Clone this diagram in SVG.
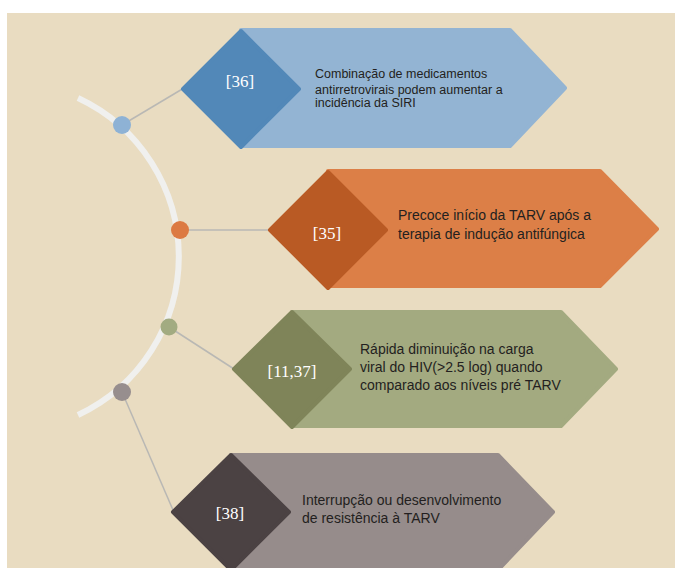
<svg xmlns="http://www.w3.org/2000/svg" width="675" height="568" viewBox="0 0 675 568">
<style>
.txt{font-family:"Liberation Sans","Noto Sans",Arial,sans-serif;fill:#231f20}
.lbl{font-family:"Liberation Serif","Times New Roman",serif;font-size:17px;fill:#ffffff;text-anchor:middle}
.conn{stroke:#b9b8b4;stroke-width:1.5;fill:none}
.shape{stroke-linejoin:round;stroke-width:4}
</style>
<rect x="0" y="0" width="675" height="568" fill="#ffffff"/>
<rect x="7" y="13" width="668" height="555" fill="#e9dcc1"/>
<path d="M78 98 A175 175 0 0 1 78 415" fill="none" stroke="#f0f0ee" stroke-width="6"/>
<g id="connectors">
<line class="conn" x1="122" y1="125" x2="184" y2="88"/>
<line class="conn" x1="180" y1="230" x2="270" y2="230"/>
<line class="conn" x1="169" y1="327" x2="234" y2="369"/>
<line class="conn" x1="122" y1="392" x2="173" y2="510"/>
</g>
<g id="dots">
<circle cx="122" cy="125" r="9" fill="#8eb2d5"/>
<circle cx="180" cy="230" r="9" fill="#dc7a42"/>
<circle cx="169" cy="327" r="8.5" fill="#a2ab81"/>
<circle cx="122" cy="392" r="9" fill="#978e8e"/>
</g>
<g id="node36">
<polygon class="shape" points="241,30 510,30 565,88 510,146 241,146" fill="#93b4d3" stroke="#93b4d3"/>
<polygon class="shape" points="241,31 299,89 241,147 183,89" fill="#5288b8" stroke="#5288b8"/>
<text class="lbl" x="240" y="87">[36]</text>
<text class="txt" font-size="12.5"><tspan x="315" y="78">Combinação de medicamentos</tspan><tspan x="315" y="94">antirretrovirais podem aumentar a</tspan><tspan x="315" y="107">incidência da SIRI</tspan></text>
</g>
<g id="node35">
<polygon class="shape" points="328,171 600,171 657,229 600,286 328,286" fill="#dc7f47" stroke="#dc7f47"/>
<polygon class="shape" points="328,172 386,230 328,288 270,230" fill="#b95a24" stroke="#b95a24"/>
<text class="lbl" x="327" y="239">[35]</text>
<text class="txt" font-size="14"><tspan x="398" y="220">Precoce início da TARV após a</tspan><tspan x="398" y="239">terapia de indução antifúngica</tspan></text>
</g>
<g id="node1137">
<polygon class="shape" points="292,312 561,312 616,369 561,426 292,426" fill="#a3aa80" stroke="#a3aa80"/>
<polygon class="shape" points="292,312 350,369 292,427 234,369" fill="#7f8459" stroke="#7f8459"/>
<text class="lbl" x="292" y="377">[11,37]</text>
<text class="txt" font-size="14"><tspan x="360" y="354">Rápida diminuição na carga</tspan><tspan x="360" y="372">viral do HIV(&gt;2.5 log) quando</tspan><tspan x="360" y="390">comparado aos níveis pré TARV</tspan></text>
</g>
<g id="node38">
<polygon class="shape" points="231,455 498,455 553,512 498,570 231,570" fill="#968c8b" stroke="#968c8b"/>
<polygon class="shape" points="231,455 289,512 231,570 173,512" fill="#4b4243" stroke="#4b4243"/>
<text class="lbl" x="230" y="519">[38]</text>
<text class="txt" font-size="14"><tspan x="302" y="505">Interrupção ou desenvolvimento</tspan><tspan x="302" y="523">de resistência à TARV</tspan></text>
</g>
</svg>
